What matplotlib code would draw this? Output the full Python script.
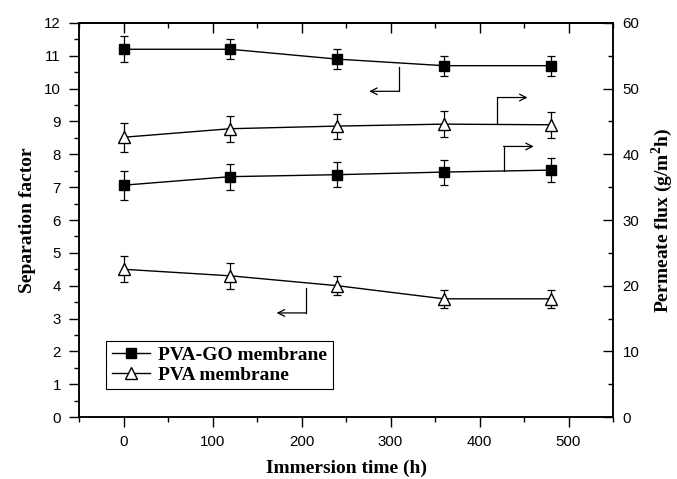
import matplotlib
matplotlib.use("Agg")
import matplotlib.pyplot as plt
from matplotlib.lines import Line2D
from matplotlib.ticker import MultipleLocator

# --- data
time_h = [0, 120, 240, 360, 480]

go_sep = [11.2, 11.2, 10.9, 10.7, 10.7]
go_sep_err = [0.4, 0.3, 0.3, 0.3, 0.3]
pva_sep = [4.5, 4.3, 4.0, 3.6, 3.6]
pva_sep_err = [0.4, 0.4, 0.28, 0.28, 0.28]

go_flux = [35.3, 36.6, 36.9, 37.3, 37.6]
go_flux_err = [2.2, 2.0, 1.9, 1.9, 1.8]
pva_flux = [42.6, 43.9, 44.3, 44.6, 44.5]
pva_flux_err = [2.2, 2.0, 1.9, 2.0, 2.0]

labels = ["PVA-GO membrane", "PVA membrane"]

SERIF = "Liberation Serif"
SANS = "Liberation Sans"
plt.rcParams["mathtext.fontset"] = "custom"
plt.rcParams["mathtext.rm"] = SERIF + ":bold"
plt.rcParams["mathtext.bf"] = SERIF + ":bold"

fig = plt.figure(figsize=(6.77, 4.79), dpi=100)
ax = fig.add_axes([0.1167, 0.1294, 0.7888, 0.8226])
ax2 = ax.twinx()

sq = dict(marker="s", ms=6.5, mfc="black", mec="black", color="black", lw=1)
tri = dict(marker="^", ms=8.5, mfc="white", mec="black", color="black", lw=1)
eb = dict(ecolor="black", elinewidth=0.9, capsize=3, capthick=0.9, zorder=3)

ax.errorbar(time_h, go_sep, yerr=go_sep_err, **sq, **eb)
ax.errorbar(time_h, pva_sep, yerr=pva_sep_err, **tri, **eb)
ax2.errorbar(time_h, go_flux, yerr=go_flux_err, **sq, **eb)
ax2.errorbar(time_h, pva_flux, yerr=pva_flux_err, **tri, **eb)

# --- axis-pointing arrows (in left-axis data units)
arrows = [
    # (x_vert, y_start, y_end, x_tip)
    (310, 10.65, 9.92, 276),
    (420, 8.91, 9.73, 454),
    (427, 7.49, 8.24, 461),
    (205, 3.92, 3.17, 172),
]
for xv, y0, y1, xt in arrows:
    ax.plot([xv, xv], [y0, y1], color="black", lw=0.9, zorder=2)
    ax.annotate("", xy=(xt, y1), xytext=(xv, y1),
                arrowprops=dict(arrowstyle="->", color="black", lw=0.9,
                                shrinkA=0, shrinkB=0, mutation_scale=12))

ax.set_xlim(-50, 550)
ax.set_ylim(0, 12)
ax2.set_ylim(0, 60)

ax.xaxis.set_major_locator(MultipleLocator(100))
ax.xaxis.set_minor_locator(MultipleLocator(50))
ax.yaxis.set_major_locator(MultipleLocator(1))
ax.yaxis.set_minor_locator(MultipleLocator(0.5))
ax2.yaxis.set_major_locator(MultipleLocator(10))
ax2.yaxis.set_minor_locator(MultipleLocator(5))

ax.tick_params(axis="both", which="major", direction="out", length=7, width=1,
               labelsize=10.8, pad=6)
ax.tick_params(axis="both", which="minor", direction="out", length=3.5, width=1)
ax2.tick_params(axis="y", which="major", direction="in", length=7, width=1,
                labelsize=10.8, pad=7)
ax2.tick_params(axis="y", which="minor", direction="in", length=3.5, width=1)

top = ax.secondary_xaxis("top")
top.xaxis.set_major_locator(MultipleLocator(100))
top.xaxis.set_minor_locator(MultipleLocator(50))
top.tick_params(which="major", direction="in", length=7, width=1, labeltop=False)
top.tick_params(which="minor", direction="in", length=3.5, width=1)

for a in (ax, ax2):
    for lbl in a.get_xticklabels() + a.get_yticklabels():
        lbl.set_fontfamily(SANS)
    for s in a.spines.values():
        s.set_linewidth(1.1)
top.spines["top"].set_linewidth(1.1)

ax.set_xlabel("Immersion time (h)", fontfamily=SERIF, fontweight="bold",
              fontsize=14, labelpad=8)
ax.set_ylabel("Separation factor", fontfamily=SERIF, fontweight="bold",
              fontsize=14, labelpad=6)
ax2.set_ylabel("Permeate flux (g/m$^2$h)", fontfamily=SERIF, fontweight="bold",
               fontsize=14, labelpad=7)

handles = [Line2D([], [], **sq), Line2D([], [], **tri)]
leg = ax.legend(handles, labels,
                loc="lower left", bbox_to_anchor=(0.05, 0.07),
                borderaxespad=0, fancybox=False, framealpha=1,
                edgecolor="black", handlelength=2.0, handletextpad=0.4,
                borderpad=0.3, labelspacing=0.1,
                prop=dict(family=SERIF, weight="bold", size=14))
leg.get_frame().set_linewidth(0.8)

fig.savefig("out.png", dpi=100, facecolor="white")
